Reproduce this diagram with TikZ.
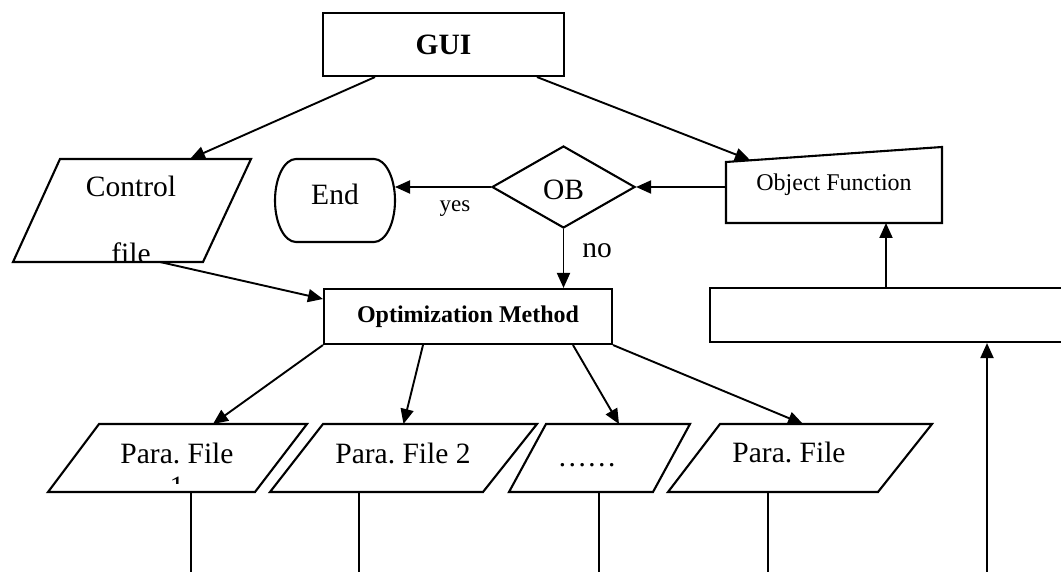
\documentclass[tikz,border=0pt]{standalone}
\usepackage{fontspec}
\setmainfont{Liberation Serif}
\usetikzlibrary{arrows.meta,shapes.geometric,calc}
\begin{document}
\frenchspacing
\begin{tikzpicture}[x=1pt,y=-1pt,
  shp/.style={draw, line width=2.1pt},
  box/.style={draw=none, inner sep=0pt, outer sep=0pt},
  con/.style={line width=1.9pt, -{Triangle[length=15pt,width=13pt]}},
  ln/.style={line width=1.9pt},
  bigf/.style={font=\fontsize{29.5}{33}\selectfont},
  midf/.style={font=\fontsize{24}{28}\selectfont},
  lbl/.style={anchor=base, inner sep=0pt, outer sep=0pt}]
\useasboundingbox (0,0) rectangle (1061,572);
\coordinate (bot) at (0,572);

% GUI
\node[shp, minimum width=241pt, minimum height=63pt, inner sep=0pt, font=\bfseries\fontsize{29.5}{33}\selectfont] (gui) at (443.5,44.5) {GUI};

% Control file
\node[box, minimum width=238pt, minimum height=103pt] (ctl) at (132,210.5) {};
\draw[shp] (60,159) -- (251,159) -- (203,262) -- (13,262) -- cycle;
\node[lbl,bigf] (ctlt) at (131,197) {Control};
\begin{scope}
\clip (0,0) rectangle (1061,260.5);
\node[lbl,bigf] (ctlf) at (131,264) {file};
\end{scope}

% End
\draw[shp] (296,159) -- (374,159)
  arc[start angle=90,end angle=-90,x radius=21pt,y radius=41.5pt] -- (296,242)
  arc[start angle=270,end angle=90,x radius=21pt,y radius=41.5pt] -- cycle;
\node[box, minimum width=120pt, minimum height=83pt] (end) at (335,200.5) {};
\node[lbl,bigf] (endt) at (335,205) {End};

% OB decision
\node[shp, diamond, minimum width=143pt, minimum height=82pt, inner sep=0pt] (ob) at (563.5,187) {};
\node[lbl,bigf] (obt) at (563.5,200) {OB};

% Object Function
\node[box, minimum width=216pt, minimum height=76pt] (of) at (834,185) {};
\draw[shp] (726,162) -- (942,147) -- (942,223) -- (726,223) -- cycle;
\node[lbl,midf] (oft) at (834,191) {Object Function};

% Optimization Method
\node[shp, minimum width=288pt, minimum height=55pt, inner sep=0pt, font=\bfseries\fontsize{24}{28}\selectfont] (opt) at (468,316.5) {Optimization Method};

% empty box at right
\node[shp, minimum width=365pt, minimum height=54pt] (bigr) at (892.5,315) {};

% Para files
\node[box, minimum width=259pt, minimum height=68pt] (pf1) at (177.5,458) {};
\draw[shp] (99,424) -- (307,424) -- (255,492) -- (48,492) -- cycle;
\node[lbl,bigf] (pf1t) at (177,463) {Para. File};
\begin{scope}
\clip (0,0) rectangle (1061,483);
\node[lbl,bigf] (pf1n) at (177,496) {1};
\end{scope}

\node[box, minimum width=267pt, minimum height=68pt] (pf2) at (403.5,458) {};
\draw[shp] (323,424) -- (537,424) -- (483,492) -- (270,492) -- cycle;
\node[lbl,bigf] (pf2t) at (403,463) {Para. File 2};

\node[box, minimum width=181pt, minimum height=68pt] (pf3) at (599.5,458) {};
\draw[shp] (546,424) -- (690,424) -- (653,492) -- (509,492) -- cycle;
\node[lbl,bigf] (pf3t) at (587,466) {……};

\node[box, minimum width=264pt, minimum height=68pt] (pf4) at (800,458) {};
\draw[shp] (720,424) -- (932,424) -- (878,492) -- (668,492) -- cycle;
\node[lbl,bigf] (pf4t) at (789,462) {Para. File};

% connectors
\draw[con] ([xshift=-68.5pt]gui.south) -- ([xshift=58pt]ctl.north);
\draw[con] ([xshift=93.5pt]gui.south) -- ([xshift=-84pt,yshift=-13pt]of.north);
\draw[con] (of.west |- ob.east) -- (ob.east);
\draw[con] (ob.west) -- (end.east |- ob.west);
\node[lbl, font=\fontsize{23}{27}\selectfont] (yes) at (455,212) {yes};
\draw[con] (ob.south) -- (ob.south |- opt.north);
\node[lbl,bigf] (no) at (597,258) {no};
\draw[con] ([xshift=28pt]ctl.south) -- ([yshift=17.5pt]opt.west);

\draw[con] (opt.south west) -- ([xshift=35.5pt]pf1.north);
\draw[con] ([xshift=-45pt]opt.south) -- (pf2.north);
\draw[con] ([xshift=105pt]opt.south) -- ([xshift=19.5pt]pf3.north);
\draw[con] (opt.south east) -- ([xshift=3pt]pf4.north);

\path ([xshift=-6.5pt]bigr.north) coordinate (bt);
\draw[con] (bt) -- (bt |- of.south);

% lines down to the bottom edge
\path ([xshift=13.5pt]pf1.south) coordinate (v1);
\draw[ln] (v1) -- (v1 |- bot);
\path ([xshift=-44.5pt]pf2.south) coordinate (v2);
\draw[ln] (v2) -- (v2 |- bot);
\path ([xshift=-0.5pt]pf3.south) coordinate (v3);
\draw[ln] (v3) -- (v3 |- bot);
\path ([xshift=-32pt]pf4.south) coordinate (v4);
\draw[ln] (v4) -- (v4 |- bot);
\coordinate (lb) at (987,572);
\draw[con] (lb) -- (lb |- bigr.south);
\end{tikzpicture}
\end{document}
